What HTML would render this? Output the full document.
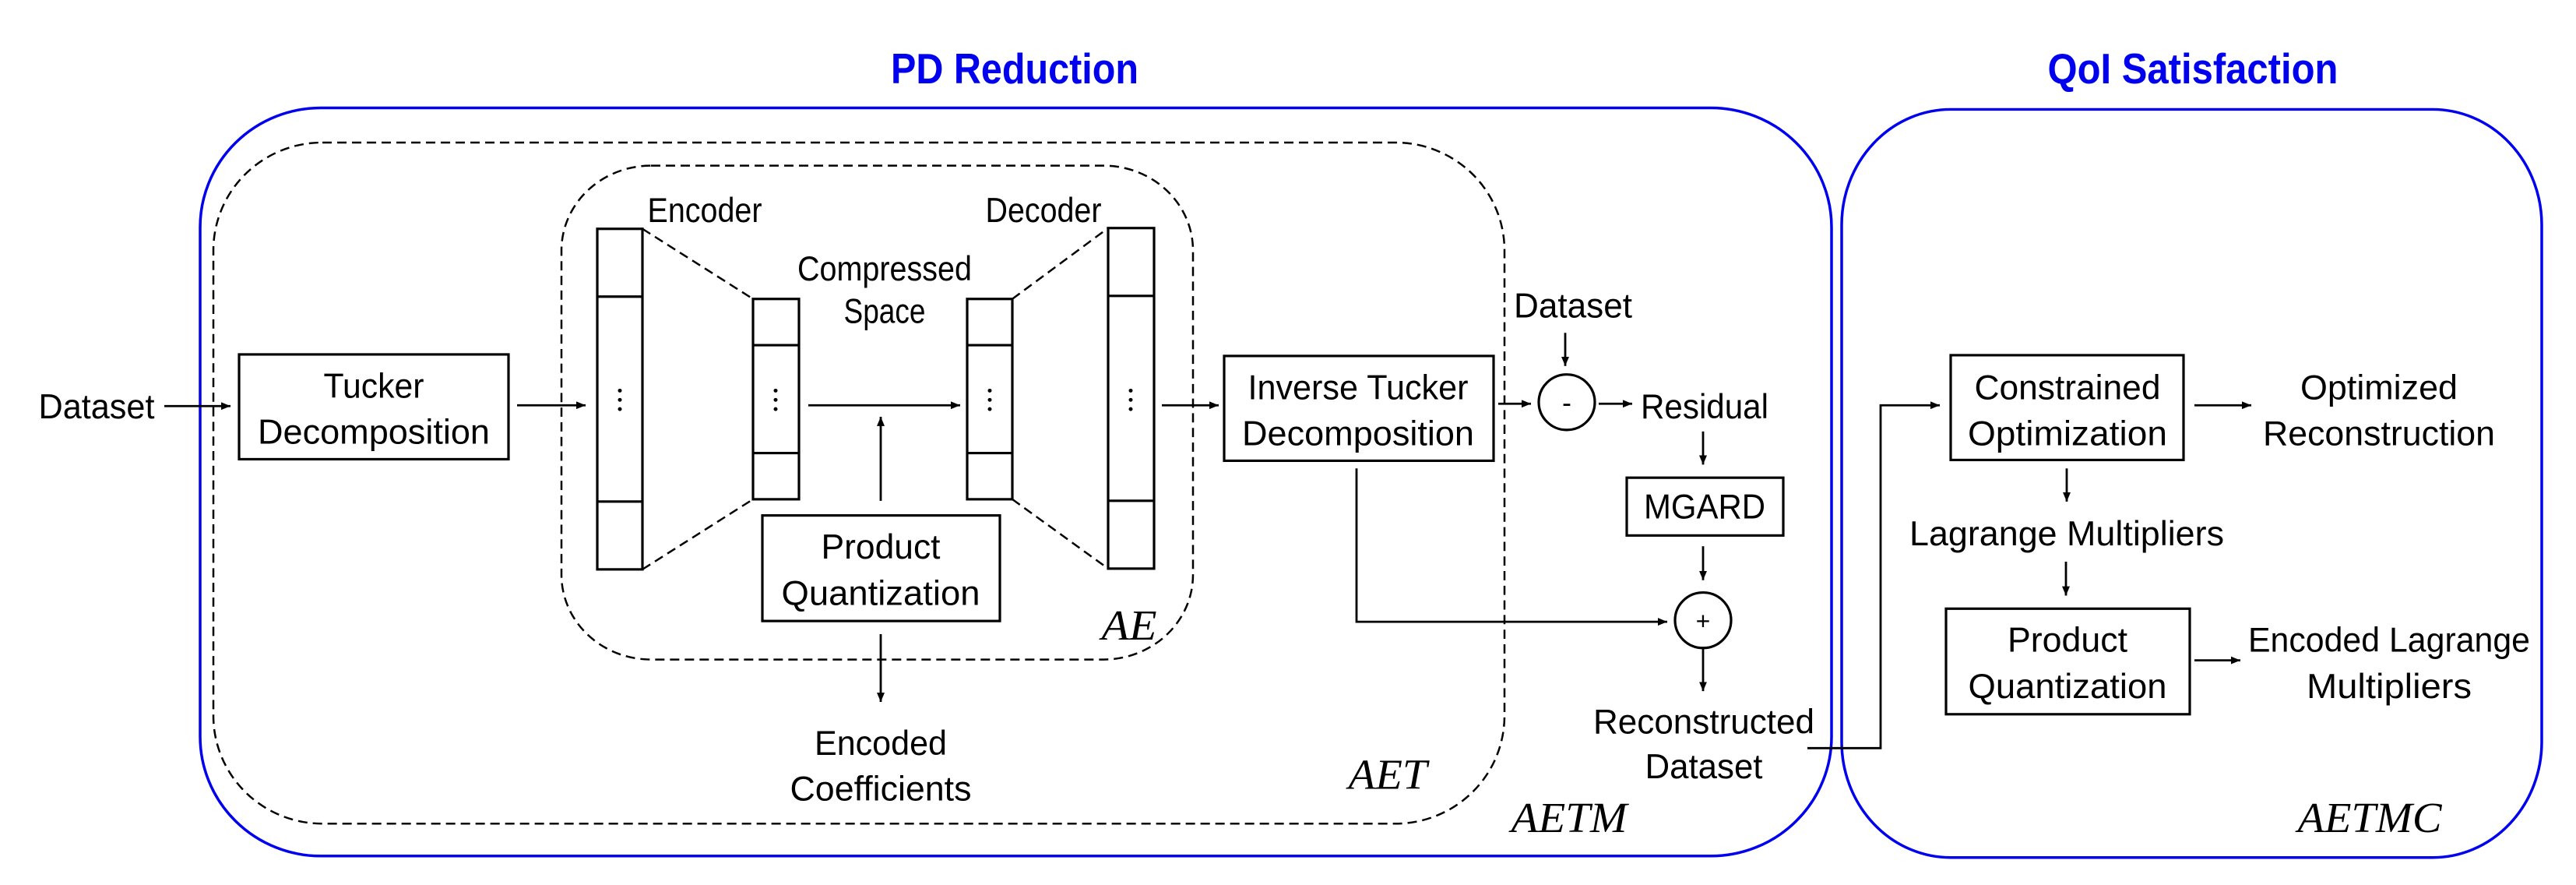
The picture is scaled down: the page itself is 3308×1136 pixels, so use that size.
<!DOCTYPE html>
<html><head><meta charset="utf-8"><style>html,body{margin:0;padding:0;background:#fff}svg{display:block}</style></head>
<body>
<svg width="3308" height="1136" viewBox="0 0 3308 1136" xmlns="http://www.w3.org/2000/svg">
<defs>
<marker id="a" viewBox="0 0 12 10" refX="12" refY="5" markerWidth="12" markerHeight="10" markerUnits="userSpaceOnUse" orient="auto"><path d="M0,0 L12,5 L0,10 z" fill="#000"/></marker>
</defs>
<g transform="scale(1,0.989)">
<g font-family="Liberation Sans, sans-serif" text-anchor="middle">
<text x="1303" y="108" font-size="55" font-weight="bold" fill="#0000ee" textLength="318" lengthAdjust="spacingAndGlyphs">PD Reduction</text>
<text x="2816" y="108" font-size="55" font-weight="bold" fill="#0000ee" textLength="373" lengthAdjust="spacingAndGlyphs">QoI Satisfaction</text>
</g>
<g fill="none" stroke="#0000ee" stroke-width="3.5">
<rect x="257" y="140" width="2095" height="971" rx="155" ry="155"/>
<rect x="2365" y="142" width="899" height="971" rx="140" ry="150"/>
</g>
<g fill="none" stroke="#000" stroke-width="2.5" stroke-dasharray="12,7">
<rect x="274" y="185" width="1658" height="884" rx="140" ry="140"/>
<rect x="721" y="215" width="811" height="641" rx="115" ry="110"/>
<line x1="825" y1="297" x2="967" y2="388"/>
<line x1="825" y1="739" x2="967" y2="648"/>
<line x1="1300" y1="388" x2="1423" y2="296"/>
<line x1="1300" y1="648" x2="1423" y2="738"/>
</g>
<g fill="none" stroke="#000" stroke-width="3.2">
<rect x="307" y="460" width="346" height="136"/>
<rect x="767" y="297" width="58" height="442"/><line x1="767" y1="385" x2="825" y2="385"/><line x1="767" y1="651" x2="825" y2="651"/>
<rect x="967" y="388" width="59" height="260"/><line x1="967" y1="448" x2="1026" y2="448"/><line x1="967" y1="588" x2="1026" y2="588"/>
<rect x="1242" y="388" width="58" height="260"/><line x1="1242" y1="448" x2="1300" y2="448"/><line x1="1242" y1="588" x2="1300" y2="588"/>
<rect x="1423" y="296" width="59" height="442"/><line x1="1423" y1="384" x2="1482" y2="384"/><line x1="1423" y1="650" x2="1482" y2="650"/>
<rect x="979" y="669" width="305" height="137"/>
<rect x="1572" y="462" width="346" height="136"/>
<rect x="2089" y="620" width="201" height="75"/>
<circle cx="2012" cy="522" r="36"/>
<circle cx="2187" cy="805" r="36"/>
<rect x="2505" y="461" width="299" height="136"/>
<rect x="2499" y="790" width="313" height="137"/>
</g>
<g fill="#000">
<circle cx="796" cy="507" r="2.5"/><circle cx="796" cy="519" r="2.5"/><circle cx="796" cy="531" r="2.5"/>
<circle cx="996" cy="507" r="2.5"/><circle cx="996" cy="519" r="2.5"/><circle cx="996" cy="531" r="2.5"/>
<circle cx="1271" cy="507" r="2.5"/><circle cx="1271" cy="519" r="2.5"/><circle cx="1271" cy="531" r="2.5"/>
<circle cx="1452" cy="507" r="2.5"/><circle cx="1452" cy="519" r="2.5"/><circle cx="1452" cy="531" r="2.5"/>
</g>
<g fill="none" stroke="#000" stroke-width="2.8" marker-end="url(#a)">
<line x1="211" y1="527" x2="296" y2="527"/>
<line x1="664" y1="526" x2="752" y2="526"/>
<line x1="1038" y1="526" x2="1233" y2="526"/>
<line x1="1131" y1="650" x2="1131" y2="541"/>
<line x1="1131" y1="823" x2="1131" y2="911"/>
<line x1="1492" y1="526" x2="1565" y2="526"/>
<line x1="1924" y1="524" x2="1966" y2="524"/>
<line x1="2010" y1="432" x2="2010" y2="475"/>
<line x1="2053" y1="524" x2="2096" y2="524"/>
<line x1="2187" y1="560" x2="2187" y2="603"/>
<line x1="2187" y1="709" x2="2187" y2="753"/>
<polyline points="1742,608 1742,807 2141,807"/>
<line x1="2187" y1="841" x2="2187" y2="897"/>
<polyline points="2321,971 2415,971 2415,526 2491,526"/>
<line x1="2818" y1="526" x2="2891" y2="526"/>
<line x1="2654" y1="608" x2="2654" y2="651"/>
<line x1="2653" y1="729" x2="2653" y2="773"/>
<line x1="2818" y1="857" x2="2877" y2="857"/>
</g>
<g font-family="Liberation Sans, sans-serif" font-size="45" text-anchor="middle" fill="#000">
<text x="124" y="543" textLength="149" lengthAdjust="spacingAndGlyphs">Dataset</text>
<text x="480" y="516" textLength="129" lengthAdjust="spacingAndGlyphs">Tucker</text>
<text x="480" y="576" textLength="298" lengthAdjust="spacingAndGlyphs">Decomposition</text>
<text x="905" y="288" textLength="147" lengthAdjust="spacingAndGlyphs">Encoder</text>
<text x="1340" y="288" textLength="149" lengthAdjust="spacingAndGlyphs">Decoder</text>
<text x="1136" y="364" textLength="224" lengthAdjust="spacingAndGlyphs">Compressed</text>
<text x="1136" y="419" textLength="105" lengthAdjust="spacingAndGlyphs">Space</text>
<text x="1131" y="725" textLength="153" lengthAdjust="spacingAndGlyphs">Product</text>
<text x="1131" y="785" textLength="255" lengthAdjust="spacingAndGlyphs">Quantization</text>
<text x="1131" y="980" textLength="170" lengthAdjust="spacingAndGlyphs">Encoded</text>
<text x="1131" y="1039" textLength="233" lengthAdjust="spacingAndGlyphs">Coefficients</text>
<text x="1744" y="518" textLength="283" lengthAdjust="spacingAndGlyphs">Inverse Tucker</text>
<text x="1744" y="578" textLength="298" lengthAdjust="spacingAndGlyphs">Decomposition</text>
<text x="2020" y="412" textLength="152" lengthAdjust="spacingAndGlyphs">Dataset</text>
<text x="2189" y="543" textLength="164" lengthAdjust="spacingAndGlyphs">Residual</text>
<text x="2189" y="673" textLength="156" lengthAdjust="spacingAndGlyphs">MGARD</text>
<text x="2188" y="952" textLength="284" lengthAdjust="spacingAndGlyphs">Reconstructed</text>
<text x="2188" y="1010" textLength="151" lengthAdjust="spacingAndGlyphs">Dataset</text>
<text x="2655" y="518" textLength="239" lengthAdjust="spacingAndGlyphs">Constrained</text>
<text x="2655" y="578" textLength="256" lengthAdjust="spacingAndGlyphs">Optimization</text>
<text x="3055" y="518" textLength="202" lengthAdjust="spacingAndGlyphs">Optimized</text>
<text x="3055" y="578" textLength="298" lengthAdjust="spacingAndGlyphs">Reconstruction</text>
<text x="2654" y="708" textLength="404" lengthAdjust="spacingAndGlyphs">Lagrange Multipliers</text>
<text x="2655" y="846" textLength="154" lengthAdjust="spacingAndGlyphs">Product</text>
<text x="2655" y="906" textLength="255" lengthAdjust="spacingAndGlyphs">Quantization</text>
<text x="3068" y="846" textLength="362" lengthAdjust="spacingAndGlyphs">Encoded Lagrange</text>
<text x="3068" y="906" textLength="212" lengthAdjust="spacingAndGlyphs">Multipliers</text>
<text x="2012" y="535" font-size="36">-</text>
<text x="2187" y="817" font-size="32">+</text>
</g>
<g font-family="Liberation Serif, serif" font-style="italic" font-size="56" text-anchor="middle" fill="#000">
<text x="1450" y="830" textLength="71" lengthAdjust="spacingAndGlyphs">AE</text>
<text x="1782" y="1024" textLength="101" lengthAdjust="spacingAndGlyphs">AET</text>
<text x="2015" y="1080" textLength="149" lengthAdjust="spacingAndGlyphs">AETM</text>
<text x="3043" y="1080" textLength="185" lengthAdjust="spacingAndGlyphs">AETMC</text>
</g>
</g>
</svg>
</body></html>
